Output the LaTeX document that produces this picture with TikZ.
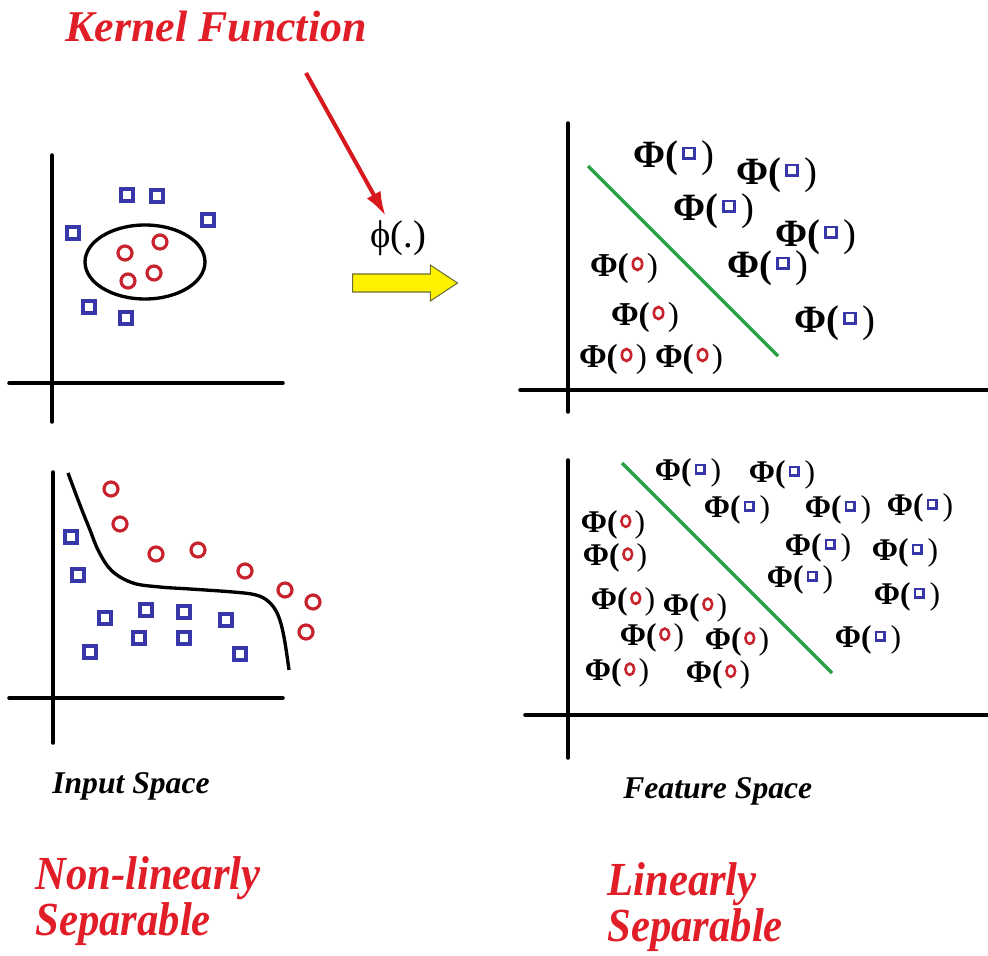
\documentclass[tikz,border=0pt]{standalone}
\usepackage{fontspec}
\setmainfont{Liberation Serif}
\usetikzlibrary{arrows.meta,shapes.arrows}

\definecolor{ptblue}{RGB}{55,55,170}
\definecolor{ptred}{RGB}{200,35,45}
\definecolor{txtred}{RGB}{225,30,40}
\definecolor{arrred}{RGB}{215,25,30}
\definecolor{sepgreen}{RGB}{40,160,70}
\definecolor{arrgray}{RGB}{110,110,60}

% small marks used inside the feature-space labels
\newcommand{\labsq}{\tikz[baseline=0pt]\draw[ptblue,line width=0.075em] (0,0.23em) rectangle (0.27em,0.5em);}
\newcommand{\labcirc}{\tikz[baseline=0pt]\draw[ptred,line width=0.08em] (0.15em,0.36em) ellipse [x radius=0.14em, y radius=0.18em];}
\newcommand{\phisq}{\textbf{Φ(}\kern0.1em\labsq\kern0.15em)}
\newcommand{\phicirc}{\textbf{Φ(}\kern0.08em\labcirc\kern0.1em)}
% narrow red captions
\newcommand{\narrow}[1]{\scalebox{0.9}[1]{#1}}

\begin{document}
\begin{tikzpicture}[x=0.02cm, y=-0.02cm, >=Latex,
    axis/.style={line width=2pt, line cap=round},
    insq/.style={draw=ptblue, line width=1.9pt},
    incirc/.style={draw=ptred, line width=1.8pt},
    sepline/.style={draw=sepgreen, line width=1.9pt},
    philarge/.style={inner sep=0pt, font=\fontsize{22}{24}\selectfont},
    phimid/.style={inner sep=0pt, font=\fontsize{19}{21}\selectfont},
    phismall/.style={inner sep=0pt, font=\fontsize{18}{20}\selectfont},
    redtitle/.style={text=txtred, anchor=base west, inner sep=0pt,
        font=\fontsize{27}{29}\selectfont\bfseries\itshape},
    spacename/.style={anchor=base west, inner sep=0pt,
        font=\fontsize{18}{20}\selectfont\bfseries\itshape}]

% Frame of the picture
\useasboundingbox (0,0) rectangle (988,956);

% Kernel title and its arrow
\node[redtitle, font=\fontsize{25}{27}\selectfont\bfseries\itshape]
    (kernel) at (65,42) {Kernel Function};
\node[anchor=base west, inner sep=0pt, font=\fontsize{22}{24}\selectfont]
    (phimap) at (370,248) {ϕ(.)};
\coordinate (kstart) at (306,73);
\draw[-{Latex[length=14pt,width=9pt]}, arrred, line width=2.3pt, shorten >=3pt]
    (kstart) -- (phimap);

% Mapping arrow
\node[single arrow, draw=arrgray, fill=yellow, line width=0.6pt,
    minimum height=2.1cm, inner sep=0.17cm,
    single arrow head extend=0.18cm, single arrow tip angle=67,
    anchor=tail] (maparrow) at (352,283) {};

% Input space, top
\draw[axis] (52,155) -- (52,422);
\draw[axis] (9,383) -- (283,383);
\draw[line width=1.9pt] (145,262) ellipse [x radius=60, y radius=37];
\foreach \x/\y in {127/195, 157/196, 208/220, 73/233, 89/307, 126/318}
    \draw[insq] (\x-6,\y-6) rectangle (\x+6,\y+6);
\foreach \x/\y in {125/253, 160/242, 128/281, 154/273}
    \draw[incirc] (\x,\y) circle [radius=7];

% Input space, bottom
\draw[axis] (53,472) -- (53,743);
\draw[axis] (9,698) -- (283,698);
\draw[line width=1.9pt] plot[smooth, tension=0.6] coordinates
    {(68,473) (80,505) (90,530) (99,552) (112,571) (133,583) (160,587)
     (190,589) (233,592) (256,595) (269,602) (278,615) (284,637) (289,670)};
\foreach \x/\y in {111/489, 120/524, 156/554, 198/550, 245/571, 285/590,
    313/602, 306/632}
    \draw[incirc] (\x,\y) circle [radius=7];
\foreach \x/\y in {71/537, 78/575, 105/618, 146/610, 184/612, 226/620,
    139/638, 184/638, 90/652, 240/654}
    \draw[insq] (\x-6,\y-6) rectangle (\x+6,\y+6);

% Feature space, top
\draw[axis] (568,123) -- (568,412);
\draw[axis] (520,390) -- (988,390);
\draw[sepline] (588,166) -- (778,356);
\foreach \x/\y [count=\i] in {674/158, 777/175, 714/211, 816/237, 768/268,
    835/323}
    \node[philarge] (tsq\i) at (\x,\y) {\phisq};
\foreach \x/\y [count=\i] in {624/268, 645/317, 613/359, 689/359}
    \node[phimid] (tcirc\i) at (\x,\y) {\phicirc};

% Feature space, bottom
\draw[axis] (568,460) -- (568,758);
\draw[axis] (525,715) -- (988,715);
\draw[sepline] (622,463) -- (832,673);
\foreach \x/\y [count=\i] in {688/473, 782/475, 737/510, 838/510, 920/508,
    818/548, 905/553, 800/580, 907/597, 868/640}
    \node[phismall] (bsq\i) at (\x,\y) {\phisq};
\foreach \x/\y [count=\i] in {613/525, 615/558, 623/602, 695/608, 652/638,
    737/642, 617/673, 718/675}
    \node[phismall] (bcirc\i) at (\x,\y) {\phicirc};

% Captions
\node[spacename] (inspace) at (52,793) {Input Space};
\node[spacename] (featspace) at (623,798) {Feature Space};
\node[redtitle] (nonlin) at (35,889) {\narrow{Non-linearly}};
\node[redtitle] (nonsep) at (35,935) {\narrow{Separable}};
\node[redtitle] (lin) at (607,895) {\narrow{Linearly}};
\node[redtitle] (linsep) at (607,941) {\narrow{Separable}};

\end{tikzpicture}
\end{document}
